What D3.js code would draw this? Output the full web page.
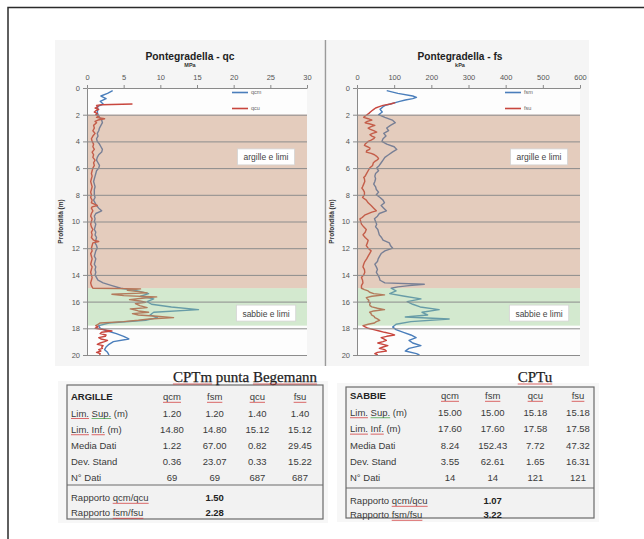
<!DOCTYPE html>
<html>
<head>
<meta charset="utf-8">
<script src="https://cdn.jsdelivr.net/npm/d3@7"></script>
<style>
  body { margin: 0; background: #fff; }
  svg { display: block; }
  text { font-family: "Liberation Sans", Arial, sans-serif; }
</style>
</head>
<body>
<div id="chart"></div>
<script>
// depth (m), qc (MPa) - CPTm mean
var qcmData = [[0.2,3.5],[0.4,2.8],[0.6,1.9],[0.8,2.6],[1.0,1.8],[1.2,2.2],[1.4,1.4],[1.6,1.5],[1.8,1.4],[2.0,1.5],
  [2.2,1.7],[2.4,2.0],[2.6,2.1],[2.8,1.9],[3.0,1.7],[3.2,1.6],[3.4,1.4],[3.6,1.5],[3.8,1.3],[4.0,1.4],
  [4.2,1.7],[4.4,1.9],[4.6,2.1],[4.8,2.0],[5.0,1.6],[5.2,1.4],[5.4,1.3],[5.6,1.5],[5.8,1.7],[6.0,1.6],
  [6.2,1.3],[6.4,1.2],[6.6,1.1],[6.8,1.0],[7.0,0.9],[7.2,1.0],[7.4,1.1],[7.6,1.0],[7.8,1.0],[8.0,1.0],
  [8.2,1.1],[8.4,0.9],[8.6,1.1],[8.8,1.3],[9.0,1.6],[9.2,2.0],[9.4,1.2],[9.6,1.0],[9.8,1.1],[10.0,1.0],
  [10.2,1.2],[10.4,1.1],[10.6,1.0],[10.8,1.2],[11.0,1.1],[11.2,1.3],[11.4,1.2],[11.6,1.1],[11.8,1.3],[12.0,1.4],
  [12.2,1.2],[12.4,1.1],[12.6,1.0],[12.8,1.2],[13.0,1.1],[13.2,1.0],[13.4,1.2],[13.6,1.1],[13.8,1.2],[14.0,1.1],
  [14.2,1.3],[14.4,1.5],[14.6,2.2],[14.8,3.4],[15.0,4.6],[15.2,6.9],[15.4,8.4],[15.6,7.3],[15.8,9.1],[16.0,8.2],
  [16.2,8.8],[16.4,11.5],[16.6,15.2],[16.8,9.1],[17.0,8.6],[17.2,9.6],[17.4,8.0],[17.6,3.0],[17.8,1.6],[18.0,1.8],
  [18.2,2.8],[18.4,4.0],[18.6,5.0],[18.8,5.7],[19.0,3.6],[19.2,3.0],[19.4,2.6],[19.6,2.4],[19.8,2.8],[20.0,3.0]];

// depth (m), qc (MPa) - CPTu
var qcuData = [[1.2,6.2],[1.25,2.0],[1.3,1.3],[1.4,1.5],[1.5,1.1],[1.6,1.6],[1.7,1.2],[1.8,1.0],[1.9,1.4],[2.0,1.2],
  [2.1,1.6],[2.2,1.3],[2.3,2.4],[2.4,1.5],[2.5,1.1],[2.6,1.3],[2.8,0.9],[3.0,1.0],[3.2,0.8],[3.4,1.1],
  [3.6,0.8],[3.8,0.6],[4.0,0.7],[4.2,0.9],[4.4,0.8],[4.6,1.0],[4.8,0.7],[5.0,0.9],[5.2,0.8],[5.4,1.1],
  [5.6,0.9],[5.8,1.0],[6.0,0.8],[6.2,0.7],[6.4,0.6],[6.6,0.7],[6.8,0.6],[7.0,0.5],[7.2,0.6],[7.4,0.7],
  [7.6,0.6],[7.8,0.5],[8.0,0.6],[8.2,0.5],[8.4,0.7],[8.6,0.6],[8.8,1.4],[8.9,0.7],[9.0,0.6],[9.2,0.8],
  [9.4,0.6],[9.6,0.5],[9.8,0.7],[10.0,0.6],[10.2,0.5],[10.4,0.6],[10.6,0.8],[10.8,0.6],[11.0,0.7],[11.2,0.6],
  [11.4,0.9],[11.5,1.6],[11.6,0.8],[11.8,0.7],[12.0,0.6],[12.2,0.7],[12.4,0.5],[12.6,0.6],[12.8,0.7],[13.0,0.6],
  [13.2,0.5],[13.4,0.7],[13.6,0.6],[13.8,0.5],[14.0,0.6],[14.2,0.7],[14.4,0.6],[14.6,0.5],[14.8,0.6],[15.0,0.8],
  [15.05,7.3],[15.15,5.5],[15.25,7.0],[15.35,8.2],[15.45,3.4],[15.55,5.0],[15.65,9.5],[15.75,7.5],[15.85,5.8],[15.95,7.2],
  [16.05,8.0],[16.15,6.6],[16.3,7.2],[16.45,8.2],[16.55,5.9],[16.7,7.0],[16.8,8.4],[16.9,6.2],[17.0,7.0],[17.1,9.5],
  [17.2,11.8],[17.3,8.5],[17.4,7.0],[17.5,5.0],[17.6,1.8],[17.7,1.5],[17.8,1.2],[17.9,1.5],[18.0,1.1],[18.1,2.2],
  [18.2,3.4],[18.3,2.0],[18.4,1.8],[18.5,2.6],[18.6,2.5],[18.7,1.6],[18.8,1.9],[18.9,2.8],[19.0,2.4],[19.1,1.8],
  [19.2,1.4],[19.3,2.2],[19.4,2.0],[19.5,2.1],[19.6,1.6],[19.7,1.9],[19.8,1.3],[19.9,1.8],[20.0,1.7]];

// depth (m), fs (kPa) - CPTm mean
var fsmData = [[0.2,80],[0.4,110],[0.6,150],[0.7,160],[0.8,150],[0.9,130],[1.0,115],[1.1,103],[1.2,90],[1.3,76],
  [1.4,70],[1.6,62],[1.8,68],[2.0,58],[2.2,75],[2.4,95],[2.6,103],[2.8,90],[3.0,80],[3.2,85],
  [3.4,72],[3.6,78],[3.8,70],[4.0,67],[4.2,80],[4.4,100],[4.6,107],[4.8,95],[5.0,85],[5.2,75],
  [5.4,70],[5.6,65],[5.8,60],[6.0,53],[6.2,58],[6.4,50],[6.6,48],[6.8,50],[7.0,48],[7.2,45],
  [7.4,50],[7.6,52],[7.8,58],[8.0,52],[8.2,62],[8.4,70],[8.6,74],[8.8,65],[9.0,72],[9.2,79],
  [9.4,60],[9.6,55],[9.8,47],[10.0,50],[10.2,53],[10.4,50],[10.6,56],[10.8,58],[11.0,60],[11.2,66],
  [11.4,70],[11.6,87],[11.8,90],[12.0,96],[12.2,75],[12.4,65],[12.6,61],[12.8,57],[13.0,55],[13.2,48],
  [13.4,52],[13.6,55],[13.8,52],[14.0,56],[14.2,60],[14.4,62],[14.6,75],[14.7,181],[14.8,140],[14.9,110],
  [15.0,92],[15.2,105],[15.4,88],[15.6,128],[15.8,172],[16.0,135],[16.2,150],[16.4,170],[16.6,221],[16.8,175],
  [17.0,190],[17.15,130],[17.3,248],[17.5,145],[17.7,105],[17.9,96],[18.1,105],[18.3,125],[18.5,145],[18.7,159],
  [18.9,140],[19.1,150],[19.3,172],[19.5,140],[19.7,130],[19.9,160],[20.0,168]];

// depth (m), fs (kPa) - CPTu
var fsuData = [[1.1,103],[1.2,90],[1.3,70],[1.4,60],[1.5,50],[1.6,45],[1.7,40],[1.8,36],[1.9,32],[2.0,27],
  [2.1,22],[2.2,18],[2.3,30],[2.4,40],[2.5,28],[2.6,22],[2.7,35],[2.8,48],[2.9,38],[3.0,30],
  [3.1,36],[3.2,45],[3.3,53],[3.4,42],[3.5,35],[3.6,40],[3.7,48],[3.8,45],[3.9,38],[4.0,30],
  [4.1,26],[4.2,22],[4.3,20],[4.4,28],[4.5,35],[4.6,34],[4.7,26],[4.8,25],[4.9,38],[5.0,47],
  [5.1,52],[5.2,56],[5.3,58],[5.4,54],[5.5,48],[5.6,44],[5.8,42],[6.0,34],[6.2,30],[6.4,26],
  [6.6,22],[6.7,18],[6.8,20],[7.0,21],[7.2,18],[7.4,15],[7.5,13],[7.6,16],[7.8,20],[8.0,20],
  [8.2,15],[8.4,25],[8.6,30],[8.8,38],[9.0,45],[9.2,52],[9.3,40],[9.5,22],[9.7,14],[9.8,8],
  [10.0,10],[10.2,12],[10.4,18],[10.6,25],[10.8,22],[11.0,16],[11.2,22],[11.4,30],[11.6,28],[11.8,25],
  [12.0,30],[12.2,38],[12.4,34],[12.6,30],[12.8,26],[13.0,21],[13.2,18],[13.4,16],[13.6,20],[13.8,21],
  [14.0,18],[14.2,12],[14.4,15],[14.6,16],[14.8,12],[15.0,12],[15.1,20],[15.2,30],[15.3,34],[15.4,45],
  [15.5,74],[15.6,40],[15.7,25],[15.8,28],[15.9,32],[16.0,30],[16.1,36],[16.2,34],[16.3,35],[16.4,40],
  [16.5,55],[16.6,74],[16.7,45],[16.8,34],[16.9,38],[17.0,39],[17.1,46],[17.2,48],[17.3,55],[17.4,61],
  [17.5,52],[17.6,47],[17.7,30],[17.8,16],[17.9,22],[18.0,30],[18.1,45],[18.2,60],[18.3,74],[18.4,90],
  [18.5,101],[18.6,80],[18.7,65],[18.8,72],[18.9,79],[19.0,70],[19.1,56],[19.2,70],[19.3,83],[19.4,70],
  [19.5,60],[19.6,75],[19.7,79],[19.8,55],[19.9,48],[20.0,56]];

var depthTicks = [0, 2, 4, 6, 8, 10, 12, 14, 16, 18, 20];
var qcTicks = [0, 5, 10, 15, 20, 25, 30];
var fsTicks = [0, 100, 200, 300, 400, 500, 600];

// soil layers: name, top, bottom (m)
var layerNames = ["argille e limi", "sabbie e limi"];
var layerTops = [2.0, 15.0];
var layerBottoms = [15.0, 17.8];
var layerLabelDepths = [5.2, 16.9];

// tables
var tableCols = ["qcm", "fsm", "qcu", "fsu"];
var rowLabels = ["Lim. Sup. (m)", "Lim. Inf. (m)", "Media Dati", "Dev. Stand", "N° Dati"];
var ratioLabels = ["Rapporto qcm/qcu", "Rapporto fsm/fsu"];
var argilleValues = [["1.20", "1.20", "1.40", "1.40"],
                     ["14.80", "14.80", "15.12", "15.12"],
                     ["1.22", "67.00", "0.82", "29.45"],
                     ["0.36", "23.07", "0.33", "15.22"],
                     ["69", "69", "687", "687"]];
var argilleRatios = ["1.50", "2.28"];
var sabbieValues = [["15.00", "15.00", "15.18", "15.18"],
                    ["17.60", "17.60", "17.58", "17.58"],
                    ["8.24", "152.43", "7.72", "47.32"],
                    ["3.55", "62.61", "1.65", "16.31"],
                    ["14", "14", "121", "121"]];
var sabbieRatios = ["1.07", "3.22"];

var blue = "#4a7ebb", red = "#c8463e";

var svg = d3.select("#chart").append("svg").attr("width", 644).attr("height", 539);

// outer frame
svg.append("path").attr("d", "M8,539V7.5H644").attr("fill", "none")
    .attr("stroke", "#2b2b2b").attr("stroke-width", 1.5);

// chart panels
svg.append("rect").attr("x", 55).attr("y", 40).attr("width", 270).attr("height", 326).attr("fill", "#f5f5f5");
svg.append("rect").attr("x", 327).attr("y", 40).attr("width", 262).attr("height", 326).attr("fill", "#f5f5f5");
svg.append("line").attr("x1", 325.5).attr("x2", 325.5).attr("y1", 40).attr("y2", 366)
    .attr("stroke", "#9a9a9a").attr("stroke-width", 1.5);

function squiggle(textNode, sub, color) {
    var s = textNode.textContent, i = s.indexOf(sub);
    if (i < 0) return;
    var p = textNode.getStartPositionOfChar(i);
    var w = textNode.getSubStringLength(i, sub.length);
    d3.select(textNode.parentNode).append("line")
        .attr("x1", p.x).attr("x2", p.x + w)
        .attr("y1", p.y + 2).attr("y2", p.y + 2)
        .attr("stroke", color).attr("stroke-width", 0.9).attr("opacity", 0.8);
}

function drawProfile(cfg) {
    var x = d3.scaleLinear().domain([0, cfg.xMax]).range([cfg.left, cfg.right]);
    var y = d3.scaleLinear().domain([0, 20]).range([88, 355]);
    var g = svg.append("g");
    var line = d3.line().x(function (d) { return x(d[1]); }).y(function (d) { return y(d[0]); });

    g.append("rect").attr("x", x(0)).attr("y", y(0))
        .attr("width", x(cfg.xMax) - x(0)).attr("height", y(20) - y(0)).attr("fill", "#fdfdfd");

    g.append("path").datum(cfg.mean).attr("d", line).attr("fill", "none")
        .attr("stroke", blue).attr("stroke-width", 1.4).attr("stroke-linejoin", "round");
    g.append("path").datum(cfg.up).attr("d", line).attr("fill", "none")
        .attr("stroke", red).attr("stroke-width", 1.4).attr("stroke-linejoin", "round");

    // semi-transparent soil layers over the profiles
    var layerColors = ["rgb(190,130,92)", "rgb(148,202,138)"];
    g.selectAll(".layer").data(layerNames).enter().append("rect")
        .attr("x", x(0)).attr("width", x(cfg.xMax) - x(0))
        .attr("y", function (d, i) { return y(layerTops[i]); })
        .attr("height", function (d, i) { return y(layerBottoms[i]) - y(layerTops[i]); })
        .attr("fill", function (d, i) { return layerColors[i]; })
        .attr("opacity", 0.4);

    g.selectAll(".grid").data(depthTicks.slice(1)).enter().append("line")
        .attr("x1", x(0)).attr("x2", x(cfg.xMax))
        .attr("y1", function (d) { return y(d) + 0.5; }).attr("y2", function (d) { return y(d) + 0.5; })
        .attr("stroke", "#8c8c8c").attr("stroke-width", 1);

    // axes
    var top = g.append("g").attr("transform", "translate(0," + y(0) + ")")
        .call(d3.axisTop(x).tickValues(cfg.ticks).tickSize(3).tickSizeOuter(0).tickPadding(5));
    var left = g.append("g").attr("transform", "translate(" + x(0) + ",0)")
        .call(d3.axisLeft(y).tickValues(depthTicks).tickSize(4).tickSizeOuter(0).tickPadding(3));
    [top, left].forEach(function (a) {
        a.select(".domain").attr("stroke", "#8a8a8a");
        a.selectAll(".tick line").attr("stroke", "#8a8a8a");
        a.selectAll(".tick text").attr("fill", "#555").style("font-size", "7.5px")
            .style("font-family", "'Liberation Sans', Arial, sans-serif");
    });

    // titles
    var cx = (cfg.titleX);
    g.append("text").attr("x", cx).attr("y", 60).attr("text-anchor", "middle")
        .attr("font-weight", "bold").attr("font-size", 11).attr("fill", "#222")
        .attr("textLength", cfg.titleW).attr("lengthAdjust", "spacingAndGlyphs").text(cfg.title);
    g.append("text").attr("x", cx).attr("y", 67).attr("text-anchor", "middle")
        .attr("font-weight", "bold").attr("font-size", 5.5).attr("fill", "#333").text(cfg.unit);
    g.append("text").attr("transform", "translate(" + cfg.yLabelX + "," + ((y(0) + y(20)) / 2) + ") rotate(-90)")
        .attr("text-anchor", "middle").attr("dy", "0.35em")
        .attr("font-weight", "bold").attr("font-size", 6.5).attr("fill", "#333").text("Profondità (m)");

    // legend
    var lg = g.selectAll(".leg").data(cfg.names).enter().append("g")
        .attr("transform", function (d, i) { return "translate(" + cfg.legendX + "," + (92.5 + i * 16) + ")"; });
    lg.append("line").attr("x1", 0).attr("x2", 16)
        .attr("stroke", function (d, i) { return i ? red : blue; }).attr("stroke-width", 1.6);
    lg.append("text").attr("x", 19).attr("dy", "0.35em").attr("font-size", 5.5).attr("fill", "#666")
        .text(function (d) { return d; });

    // layer labels
    layerNames.forEach(function (name, i) {
        var lbl = g.append("g");
        var t = lbl.append("text").attr("x", x(cfg.xMax) - 9 - 32).attr("y", y(layerLabelDepths[i]))
            .attr("dy", "0.35em").attr("text-anchor", "middle")
            .attr("font-size", 8.5).attr("fill", "#444").text(name);
        var b = t.node().getBBox();
        lbl.insert("rect", "text").attr("x", b.x - 6).attr("y", b.y - 3.5)
            .attr("width", b.width + 12).attr("height", b.height + 6)
            .attr("fill", "#fff").attr("stroke", "#d4d4d4").attr("stroke-width", 0.8);
    });
}

drawProfile({
    xMax: 30, left: 87, right: 307, ticks: qcTicks, mean: qcmData, up: qcuData,
    names: ["qcm", "qcu"], title: "Pontegradella - qc", unit: "MPa",
    titleX: 190, titleW: 89, yLabelX: 61, legendX: 232
});
drawProfile({
    xMax: 600, left: 357, right: 580, ticks: fsTicks, mean: fsmData, up: fsuData,
    names: ["fsm", "fsu"], title: "Pontegradella - fs", unit: "kPa",
    titleX: 460, titleW: 85, yLabelX: 332, legendX: 505
});

function drawTable(cfg) {
    var g = svg.append("g");
    g.append("rect").attr("x", cfg.x0 - 9).attr("y", cfg.y0 - 4)
        .attr("width", cfg.x1 - cfg.x0 + 14).attr("height", cfg.y1 - cfg.y0 + 8).attr("fill", "#f7f7f7");
    g.append("rect").attr("x", cfg.x0).attr("y", cfg.y0)
        .attr("width", cfg.x1 - cfg.x0).attr("height", cfg.y1 - cfg.y0)
        .attr("fill", "#f2f2f2").attr("stroke", "#6a6a6a").attr("stroke-width", 1.2);
    g.append("line").attr("x1", cfg.x0).attr("x2", cfg.x1).attr("y1", cfg.sep).attr("y2", cfg.sep)
        .attr("stroke", "#6a6a6a").attr("stroke-width", 1.2);

    var cx = d3.scalePoint().domain(tableCols).range(cfg.colRange);
    var ry = d3.scalePoint().domain(d3.range(6)).range(cfg.rowRange);
    var fs = 9.5, col = "#3a3a3a";

    g.append("text").attr("x", cfg.x0 + 4).attr("y", ry(0)).attr("dy", "0.35em")
        .attr("font-size", fs).attr("font-weight", "bold").attr("fill", "#222").text(cfg.name);
    g.selectAll(".hdr").data(tableCols).enter().append("text")
        .attr("x", function (d) { return cx(d); }).attr("y", ry(0)).attr("dy", "0.35em")
        .attr("text-anchor", "middle").attr("font-size", fs).attr("fill", col).text(function (d) { return d; })
        .each(function (d) { squiggle(this, d, "#d03030"); });

    rowLabels.forEach(function (lab, r) {
        g.append("text").attr("x", cfg.x0 + 4).attr("y", ry(r + 1)).attr("dy", "0.35em")
            .attr("font-size", fs).attr("fill", col).text(lab)
            .each(function () {
                squiggle(this, "Lim.", "#d03030");
                squiggle(this, "Sup.", "#3a9a3a");
                squiggle(this, "Inf.", "#d03030");
            });
        g.selectAll(".v" + r).data(cfg.values[r]).enter().append("text")
            .attr("x", function (d, i) { return cx(tableCols[i]); }).attr("y", ry(r + 1)).attr("dy", "0.35em")
            .attr("text-anchor", "middle").attr("font-size", fs).attr("fill", col).text(function (d) { return d; });
    });

    ratioLabels.forEach(function (lab, r) {
        g.append("text").attr("x", cfg.x0 + 4).attr("y", cfg.ratioY[r]).attr("dy", "0.35em")
            .attr("font-size", fs).attr("fill", col).text(lab)
            .each(function () { squiggle(this, lab.split(" ")[1], "#d03030"); });
        g.append("text").attr("x", cx("fsm")).attr("y", cfg.ratioY[r]).attr("dy", "0.35em")
            .attr("text-anchor", "middle").attr("font-size", fs).attr("font-weight", "bold")
            .attr("fill", "#222").text(cfg.ratios[r]);
    });

    g.append("text").attr("x", cfg.titleX).attr("y", 382).attr("text-anchor", "middle")
        .style("font-family", "'Liberation Serif', 'Times New Roman', serif")
        .attr("font-size", 15).attr("fill", "#1e1e1e").attr("stroke", "#1e1e1e").attr("stroke-width", 0.25)
        .text(cfg.title)
        .each(function () {
            var n = this;
            cfg.titleMarks.forEach(function (m) { squiggle(n, m, "#d03030"); });
        });
}

drawTable({
    name: "ARGILLE", values: argilleValues, ratios: argilleRatios,
    x0: 67, x1: 323, y0: 385, y1: 519, sep: 485, ratioY: [498, 513],
    colRange: [172, 300], rowRange: [397, 478],
    title: "CPTm punta Begemann", titleX: 245, titleMarks: ["CPTm", "Begemann"]
});
drawTable({
    name: "SABBIE", values: sabbieValues, ratios: sabbieRatios,
    x0: 346, x1: 594, y0: 387, y1: 518, sep: 488, ratioY: [501, 515],
    colRange: [450, 578], rowRange: [396, 478],
    title: "CPTu", titleX: 535, titleMarks: ["CPTu"]
});
</script>
</body>
</html>
